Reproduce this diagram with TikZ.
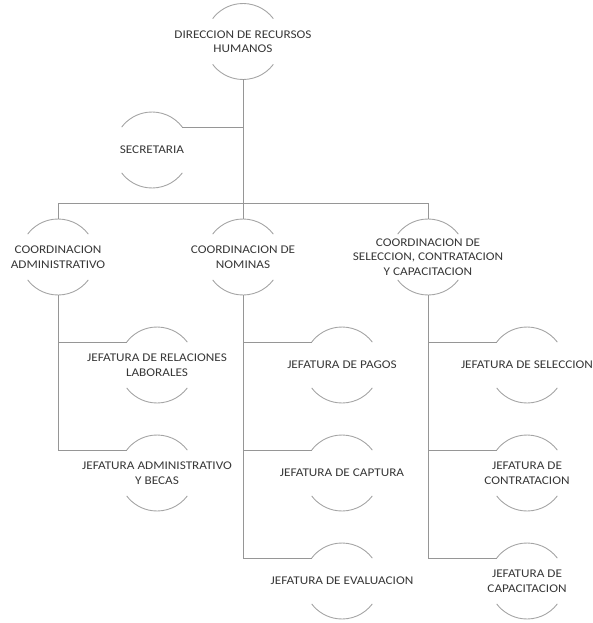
\documentclass[tikz,border=0pt]{standalone}
\usepackage{fontspec}
\setmainfont{Carlito}[FakeStretch=1.12]
\definecolor{linegray}{RGB}{150,150,150}
\definecolor{arcgray}{RGB}{165,165,165}
\definecolor{txtgray}{RGB}{55,55,55}
\tikzset{
  circ/.style={circle, minimum size=76pt, inner sep=0pt, outer sep=0pt},
  txt/.style={font=\fontsize{11.8}{14.5}\selectfont, align=center, text=txtgray, inner sep=0pt},
  conn/.style={draw=linegray, line width=0.9pt},
  arcline/.style={draw=arcgray, line width=0.9pt}
}
\newcommand{\halfarcs}[1]{%
  \draw[arcline] (#1.37) arc[start angle=37, end angle=143, radius=38pt];
  \draw[arcline] (#1.-37) arc[start angle=-37, end angle=-143, radius=38pt];}
\newcommand{\orgnode}[4]{%
  \node[circ] (#1) at (#2,#3) {};
  \node[txt] (#1-t) at (#1.center) {#4};
  \halfarcs{#1}}
\begin{document}
\begin{tikzpicture}[x=1pt,y=1pt]
\useasboundingbox (0,0) rectangle (592,-623);
\orgnode{dir}{243}{-41.5}{DIRECCION DE RECURSOS\\HUMANOS}
\orgnode{sec}{152}{-150}{SECRETARIA}
\orgnode{adm}{58}{-257}{COORDINACION\\ADMINISTRATIVO}
\orgnode{nom}{243}{-257}{COORDINACION DE\\NOMINAS}
\orgnode{sel}{428}{-257}{COORDINACION DE\\SELECCION, CONTRATACION\\Y CAPACITACION}
\orgnode{rel}{157}{-365}{JEFATURA DE RELACIONES\\LABORALES}
\orgnode{abe}{157}{-473}{JEFATURA ADMINISTRATIVO\\Y BECAS}
\orgnode{pag}{342}{-365}{JEFATURA DE PAGOS}
\orgnode{cap}{342}{-473}{JEFATURA DE CAPTURA}
\orgnode{eva}{342}{-581}{JEFATURA DE EVALUACION}
\orgnode{jse}{527}{-365}{JEFATURA DE SELECCION}
\orgnode{con}{527}{-473}{JEFATURA DE\\CONTRATACION}
\orgnode{jca}{527}{-581}{JEFATURA DE\\CAPACITACION}
\coordinate (bar) at (243,-203);
% connectors
\draw[conn] (dir.south) -- (nom.north);
\draw[conn] (sec.37) -- (sec.37 -| dir.south);
\draw[conn] (adm.north) -- (adm.north |- bar) -- (sel.north |- bar) -- (sel.north);
\draw[conn] (adm.south) |- (rel.143);
\draw[conn] (adm.south) |- (abe.143);
\draw[conn] (nom.south) |- (pag.143);
\draw[conn] (nom.south) |- (cap.143);
\draw[conn] (nom.south) |- (eva.143);
\draw[conn] (sel.south) |- (jse.143);
\draw[conn] (sel.south) |- (con.143);
\draw[conn] (sel.south) |- (jca.143);
\end{tikzpicture}
\end{document}
